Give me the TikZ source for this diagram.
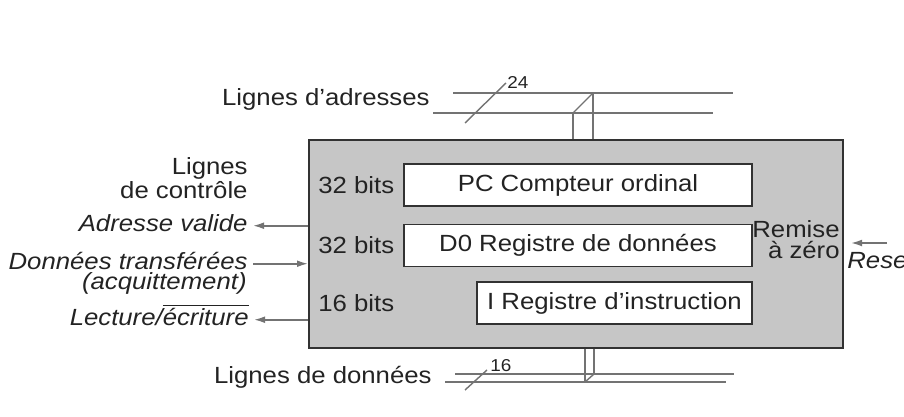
\documentclass[tikz,border=0pt]{standalone}
\usepackage{fontspec}
\setmainfont{Liberation Sans}[FakeStretch=1.1]
\usetikzlibrary{arrows.meta,positioning}
\definecolor{boxgray}{RGB}{198,198,198}
\definecolor{linegray}{RGB}{115,115,115}
\definecolor{edge}{RGB}{50,50,50}
\definecolor{ink}{RGB}{35,35,35}

\begin{document}
\begin{tikzpicture}[x=0.5pt,y=-0.5pt,text=ink,
    font=\fontsize{11.7}{10}\selectfont,>={Latex[length=5.5pt,width=3.4pt]},
    reg/.style={draw=edge,line width=0.8pt,fill=white,minimum height=21pt,inner sep=0pt},
    lbl/.style={inner sep=0pt},
    sig/.style={->,draw=linegray,line width=0.8pt},
    bus/.style={draw=linegray,line width=0.7pt},
    width/.style={inner sep=0pt,font=\fontsize{8.6}{10}\selectfont}]
  \useasboundingbox (0,0) rectangle (904,417);
  % processor and its registers
  \node[draw=edge,line width=1pt,fill=boxgray,minimum width=267pt,minimum height=104pt,inner sep=0pt]
    (cpu) at (576,244) {};
  \node[reg,minimum width=174pt] (pc) at (578,185) {PC Compteur ordinal};
  \node[reg,minimum width=174pt] (d0) at (578,245.5) {D0 Registre de données};
  \node[reg,minimum width=137.5pt] (ir) at (614.5,303) {I Registre d’instruction};
  \node[lbl,anchor=west] (bpc) at (318,185) {32 bits};
  \node[lbl,anchor=west] (bd0) at (318,245.5) {32 bits};
  \node[lbl,anchor=west] (bir) at (318,303) {16 bits};
  \node[lbl,align=right,anchor=east,font=\fontsize{11.7}{10.6}\selectfont] (rz) at (840,240) {Remise\\à zéro};

  % reset input
  \node[lbl,anchor=base west,font=\fontsize{11.7}{10}\selectfont\itshape] (rst) at (847,268) {Reset};
  \coordinate (rstin) at (887,243);
  \draw[sig,shorten >=3.5pt] (rstin) -- (cpu.east |- rstin);

  % control lines
  \node[lbl,align=right,anchor=north east] (ctl) at (248,157) {Lignes\\de contrôle};
  \node[lbl,anchor=base east] (av) at (248,231) {\itshape Adresse valide};
  \node[lbl,anchor=base east] (dt) at (248,269) {\itshape Données transférées};
  \node[lbl,anchor=base east] (acq) at (247,289) {\itshape (acquittement)};
  \node[lbl,anchor=base east] (rw) at (249,325) {\itshape Lecture/$\overline{\mbox{\itshape écriture}}$};
  \draw[sig] (cpu.west |- av.mid east) -- ([xshift=2.5pt]av.mid east);
  \draw[sig] ([xshift=2.5pt]dt.mid east) -- (cpu.west |- dt.mid east);
  \draw[sig] (cpu.west |- rw.mid east) -- ([xshift=2.5pt]rw.mid east);

  % address bus
  \node[lbl,anchor=base east] (adl) at (430,105) {Lignes d’adresses};
  \coordinate (ab1) at (453,93);  \coordinate (ae1) at (733,93);
  \coordinate (ab2) at (433,113); \coordinate (ae2) at (713,113);
  \coordinate (at1) at (593,93);  \coordinate (at2) at (573,113);
  \draw[bus] (ab1) -- (ae1);
  \draw[bus] (ab2) -- (ae2);
  \draw[bus] (at1) -- (at1 |- cpu.north);
  \draw[bus] (at2) -- (at2 |- cpu.north);
  \draw[bus] (at2) -- (at1);
  \draw[bus] (465,123) -- (506,83);
  \node[width,anchor=base west] (w24) at (507,89) {24};

  % data bus
  \node[lbl,anchor=base east] (dol) at (432,383) {Lignes de données};
  \coordinate (db1) at (455,374); \coordinate (de1) at (734,374);
  \coordinate (db2) at (445,382); \coordinate (de2) at (726,382);
  \coordinate (dt1) at (594,374); \coordinate (dt2) at (585,382);
  \draw[bus] (db1) -- (de1);
  \draw[bus] (db2) -- (de2);
  \draw[bus] (dt1) -- (dt1 |- cpu.south);
  \draw[bus] (dt2) -- (dt2 |- cpu.south);
  \draw[bus] (dt2) -- (dt1);
  \draw[bus] (465,390) -- (487,370);
  \node[width,anchor=base west] (w16) at (490,371) {16};
\end{tikzpicture}
\end{document}
